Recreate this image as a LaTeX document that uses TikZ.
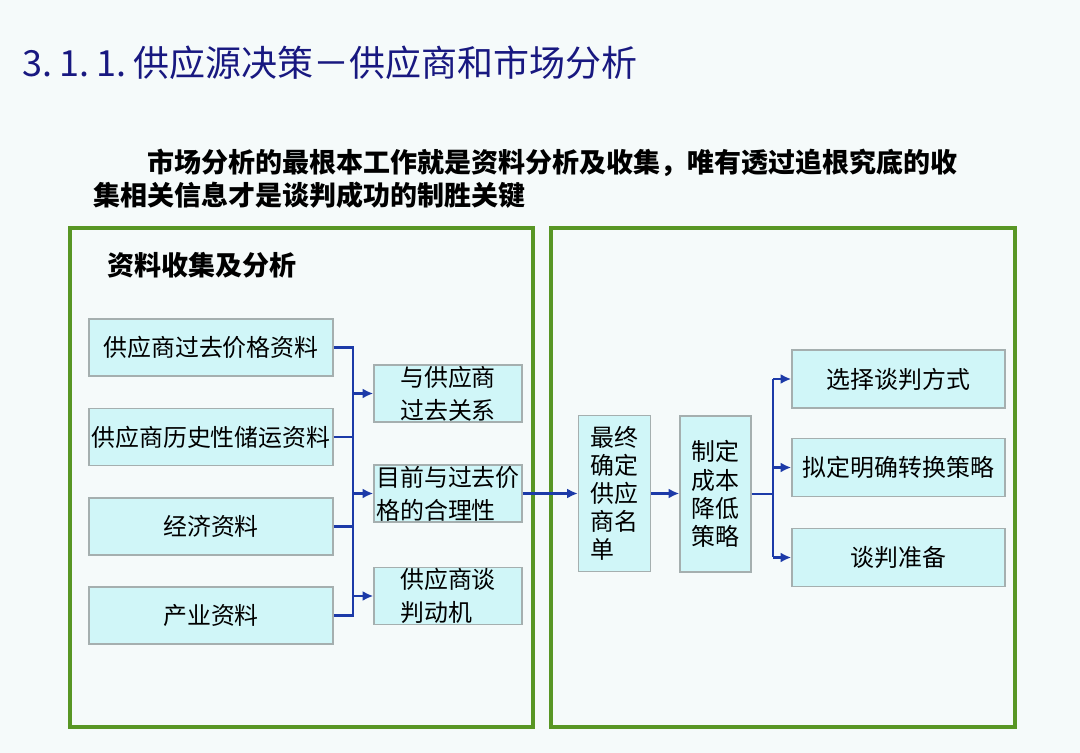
\documentclass[tikz,border=0pt]{standalone}
\usepackage{fontspec}
\setmainfont{Noto Sans CJK SC}
\usepackage{xcolor}
\usetikzlibrary{arrows.meta,positioning}

\definecolor{framegreen}{RGB}{88,150,36}
\definecolor{boxfill}{RGB}{208,246,248}
\definecolor{boxline}{RGB}{165,175,175}
\definecolor{linkblue}{RGB}{28,58,168}
\definecolor{titleblue}{RGB}{24,24,128}
\definecolor{pagebg}{RGB}{245,250,250}

\tikzset{
  infobox/.style={draw=boxline,fill=boxfill,line width=0.9pt,inner sep=0pt,
    font=\fontsize{17}{23.5}\selectfont},
  srcbox/.style={infobox,minimum width=6.1cm,minimum height=1.425cm},
  tgtbox/.style={infobox,minimum width=3.7cm,minimum height=1.425cm,align=left},
  tallbox/.style={infobox,minimum width=1.8cm,minimum height=3.9cm,align=left,
    font=\fontsize{17}{20}\selectfont},
  waybox/.style={infobox,minimum width=5.325cm,minimum height=1.45cm},
  frame/.style={draw=framegreen,line width=2.8pt},
  link/.style={draw=linkblue,line width=2.1pt},
}

\begin{document}
\begin{tikzpicture}[x=0.025cm,y=-0.025cm,>={Latex[length=2.7mm,width=2.5mm]}]
  \fill[pagebg] (0,0) rectangle (1080,753);
  \useasboundingbox (0,0) rectangle (1080,753);

  \node[anchor=west,inner sep=0pt,text=titleblue,font=\fontsize{25.6}{30}\selectfont]
    (title) at (22,63) {3.\kern5pt1.\kern5pt1.\kern5pt供应源决策－供应商和市场分析};
  \node[anchor=west,inner sep=0pt,align=left,font=\fontsize{19.2}{23.5}\selectfont\bfseries]
    (lead) at (93,178.5) {\hspace*{1.35cm}市场分析的最根本工作就是资料分析及收集，唯有透过追根究底的收\\
    集相关信息才是谈判成功的制胜关键};

  \draw[frame] (70,228) rectangle (533,727);
  \draw[frame] (551,228) rectangle (1015,727);

  \node[anchor=west,inner sep=0pt,font=\fontsize{19.2}{23}\selectfont\bfseries]
    (heading) at (107,265) {资料收集及分析};

  \node[srcbox] (src1) at (211,347.5) {供应商过去价格资料};
  \node[srcbox] (src2) at (211,437) {供应商历史性储运资料};
  \node[srcbox] (src3) at (211,526.5) {经济资料};
  \node[srcbox] (src4) at (211,615.5) {产业资料};

  \node[tgtbox] (tgt1) at (448,393.5) {与供应商\\过去关系};
  \node[tgtbox] (tgt2) at (448,493.5) {目前与过去价\\格的合理性};
  \node[tgtbox] (tgt3) at (448,596) {供应商谈\\判动机};

  \node[tallbox] (final) at (614.5,493.5) {最终\\确定\\供应\\商名\\单};
  \node[tallbox,minimum width=1.775cm] (cost) at (715.5,494) {制定\\成本\\降低\\策略};

  \node[waybox] (way1) at (898.5,379) {选择谈判方式};
  \node[waybox] (way2) at (898.5,467.5) {拟定明确转换策略};
  \node[waybox] (way3) at (898.5,557.5) {谈判准备};

  \coordinate (lbus) at (353,0);
  \coordinate (rbus) at (773,0);

  \draw[link] (src1.east) -- (src1.east -| lbus) -- (src4.east -| lbus) -- (src4.east);
  \draw[link] (src2.east) -- (src2.east -| lbus);
  \draw[link] (src3.east) -- (src3.east -| lbus);
  \foreach \t in {tgt1,tgt2,tgt3}
    \draw[link,->] (\t.west -| lbus) -- (\t.west);

  \draw[link,->] (tgt2.east) -- (final.west);
  \draw[link,->] (final.east) -- (final.east -| cost.west);

  \draw[link] (cost.east) -- (cost.east -| rbus);
  \draw[link] (way1.west -| rbus) -- (way3.west -| rbus);
  \foreach \w in {way1,way2,way3}
    \draw[link,->] (\w.west -| rbus) -- (\w.west);
\end{tikzpicture}
\end{document}
